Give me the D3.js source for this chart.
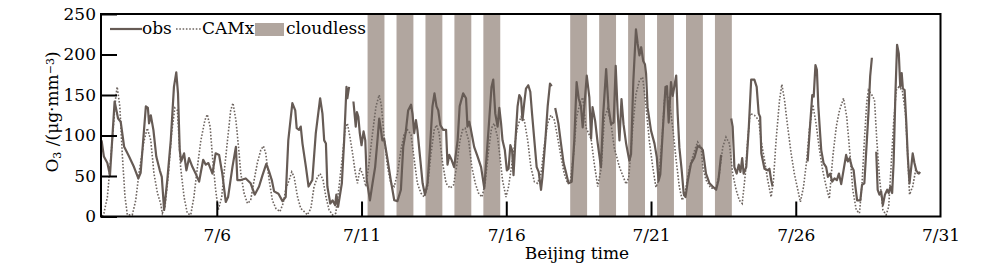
<!DOCTYPE html>
<html>
<head>
<meta charset="utf-8">
<script src="https://cdn.jsdelivr.net/npm/d3@7/dist/d3.min.js"></script>
<style>
  body { margin: 0; background: #fff; }
  svg { display: block; font-family: "DejaVu Serif", serif; }
</style>
</head>
<body>
<div id="chart"></div>
<script>
// x values are July day numbers (7/2 00:00 = 2), y values are O3 in µg/m3
// null marks a gap in the observation record
const obs = [
  [2.02,94],[2.10,74],[2.22,66],[2.31,51],[2.47,142],[2.59,121],[2.68,117],[2.80,86],[2.97,74],[3.14,61],
  [3.29,47],[3.37,54],[3.55,136],[3.62,134],[3.66,115],[3.72,125],[3.81,107],[3.91,74],[4.03,57],[4.10,49],
  [4.18,8],[4.29,45],[4.41,94],[4.52,160],[4.60,178],[4.66,152],[4.72,82],[4.77,68],[4.87,78],[4.95,57],
  [5.04,72],[5.16,61],[5.27,53],[5.39,43],[5.45,55],[5.53,70],[5.62,64],[5.71,66],[5.85,53],[5.96,78],
  [6.08,76],[6.19,53],[6.31,18],[6.39,24],[6.54,61],[6.66,86],[6.71,45],[6.83,45],[7.00,47],[7.17,41],
  [7.31,27],[7.46,37],[7.58,51],[7.71,65],[7.81,55],[7.90,45],[7.98,31],[8.13,28],[8.27,19],[8.38,24],
  [8.47,94],[8.61,140],[8.71,131],[8.76,109],[8.84,107],[8.90,111],[8.96,90],[9.08,61],[9.17,37],[9.30,45],
  [9.42,103],[9.57,146],[9.65,127],[9.71,94],[9.77,90],[9.82,37],[9.92,16],[10.00,20],[10.09,14],[10.13,27],
  [10.19,12],[10.32,41],[10.40,94],[10.48,160],[10.51,146],[10.57,160],[10.64,null],
  [10.72,142],[10.80,111],[10.84,129],[10.89,123],[10.94,103],[11.00,88],[11.07,105],[11.13,94],[11.18,45],
  [11.29,20],[11.38,41],[11.47,61],[11.55,94],[11.61,121],[11.67,107],[11.72,94],[11.78,96],[11.90,70],
  [12.01,45],[12.13,20],[12.24,19],[12.36,33],[12.44,86],[12.53,105],[12.61,131],[12.71,138],[12.76,127],
  [12.82,103],[12.88,119],[12.93,107],[13.02,74],[13.11,41],[13.19,27],[13.28,41],[13.36,82],[13.45,136],
  [13.52,152],[13.59,136],[13.65,131],[13.72,113],[13.82,107],[13.92,107],[13.97,64],[14.03,76],[14.11,70],
  [14.20,61],[14.32,94],[14.39,136],[14.51,152],[14.61,146],[14.66,111],[14.72,117],[14.78,107],[14.89,86],
  [15.01,74],[15.13,61],[15.24,35],[15.32,74],[15.41,119],[15.49,160],[15.55,169],[15.62,127],[15.70,111],
  [15.76,134],[15.82,115],[15.87,94],[15.95,82],[16.02,57],[16.08,59],[16.14,88],[16.20,82],[16.25,51],
  [16.31,90],[16.39,136],[16.45,150],[16.51,146],[16.56,119],[16.62,140],[16.68,158],[16.76,162],[16.83,154],
  [16.89,127],[16.97,94],[17.05,61],[17.12,55],[17.20,33],[17.25,49],[17.35,94],[17.43,136],[17.51,164],
  [17.57,161],[17.63,null],
  [17.69,134],[17.80,115],[17.89,90],[17.98,66],[18.06,55],[18.15,41],[18.26,43],[18.35,94],[18.43,166],
  [18.50,146],[18.58,136],[18.64,110],[18.78,174],[18.87,147],[18.93,96],[18.98,135],[19.07,118],[19.16,90],
  [19.27,61],[19.35,127],[19.45,182],[19.53,135],[19.62,114],[19.71,116],[19.78,186],[19.85,127],[19.91,94],
  [19.98,145],[20.05,114],[20.14,90],[20.25,69],[20.31,77],[20.39,168],[20.48,231],[20.54,213],[20.60,199],
  [20.66,209],[20.73,192],[20.79,188],[20.83,176],[20.88,135],[21.00,106],[21.12,90],[21.20,73],[21.26,44],
  [21.32,52],[21.40,102],[21.50,160],[21.55,161],[21.61,116],[21.69,166],[21.75,149],[21.87,174],[21.92,127],
  [21.98,85],[22.06,57],[22.13,28],[22.19,24],[22.27,44],[22.38,65],[22.50,73],[22.61,87],[22.73,85],
  [22.79,82],[22.90,53],[23.02,41],[23.13,37],[23.25,33],[23.33,45],[23.42,76],[23.60,null],
  [23.77,121],[23.82,111],[23.88,61],[23.96,53],[24.03,64],[24.09,55],[24.15,72],[24.20,53],[24.29,61],
  [24.38,111],[24.46,169],[24.57,169],[24.65,160],[24.72,127],[24.77,123],[24.81,78],[24.92,59],[25.03,57],
  [25.09,59],[25.15,45],[25.20,37],[25.80,null],
  [26.41,68],[26.50,115],[26.57,150],[26.62,148],[26.68,187],[26.73,181],[26.78,136],[26.84,103],[26.88,82],
  [26.96,66],[27.05,61],[27.11,49],[27.19,53],[27.26,43],[27.34,47],[27.42,45],[27.49,53],[27.57,40],
  [27.65,57],[27.74,76],[27.80,68],[27.86,72],[27.94,61],[28.00,57],[28.06,37],[28.12,20],[28.23,20],
  [28.29,39],[28.37,41],[28.43,78],[28.51,127],[28.57,173],[28.63,196],[28.70,null],
  [28.78,80],[28.83,33],[28.89,27],[28.95,31],[29.01,14],[29.08,27],[29.16,33],[29.21,29],[29.27,37],
  [29.33,29],[29.38,66],[29.44,148],[29.50,212],[29.56,201],[29.61,160],[29.66,177],[29.70,158],[29.76,156],
  [29.82,115],[29.87,74],[29.93,41],[29.99,61],[30.04,78],[30.10,66],[30.16,57],[30.25,53],[30.30,55]
];

const camx = [
  [2.04,0],[2.10,4],[2.22,24],[2.39,94],[2.51,148],[2.56,160],[2.65,136],[2.74,74],[2.83,24],[2.91,2],
  [3.08,2],[3.20,20],[3.31,53],[3.49,94],[3.60,109],[3.72,94],[3.83,53],[3.95,29],[4.06,16],[4.12,4],
  [4.21,12],[4.33,53],[4.44,103],[4.55,134],[4.64,131],[4.75,61],[4.87,24],[4.98,4],[5.10,2],[5.21,24],
  [5.33,61],[5.45,94],[5.59,119],[5.67,126],[5.77,111],[5.85,74],[5.96,33],[6.05,8],[6.17,24],[6.25,53],
  [6.37,94],[6.48,131],[6.56,140],[6.66,119],[6.75,86],[6.83,53],[6.94,29],[7.06,16],[7.17,20],[7.29,45],
  [7.40,66],[7.52,82],[7.61,87],[7.69,78],[7.81,45],[7.92,20],[8.04,10],[8.18,6],[8.29,16],[8.38,33],
  [8.50,45],[8.59,55],[8.67,49],[8.79,24],[8.90,10],[9.02,6],[9.13,2],[9.25,10],[9.36,37],[9.48,49],
  [9.57,53],[9.67,45],[9.77,24],[9.88,8],[10.00,2],[10.11,4],[10.23,39],[10.34,74],[10.43,107],[10.51,115],
  [10.60,98],[10.69,78],[10.78,55],[10.86,41],[10.95,60],[11.06,50],[11.15,37],[11.26,66],[11.38,103],
  [11.50,136],[11.61,150],[11.69,136],[11.78,98],[11.90,61],[12.01,41],[12.13,37],[12.24,53],[12.36,82],
  [12.47,101],[12.59,107],[12.71,101],[12.82,70],[12.93,41],[13.05,29],[13.17,24],[13.28,37],[13.40,78],
  [13.51,107],[13.59,113],[13.68,103],[13.80,66],[13.92,41],[14.06,35],[14.18,39],[14.28,61],[14.40,94],
  [14.49,107],[14.58,109],[14.70,94],[14.81,61],[14.93,41],[15.04,29],[15.16,24],[15.27,41],[15.39,82],
  [15.49,109],[15.58,115],[15.70,98],[15.78,74],[15.87,45],[15.99,24],[16.08,37],[16.16,57],[16.28,86],
  [16.39,111],[16.51,123],[16.62,119],[16.74,94],[16.85,61],[16.97,43],[17.08,41],[17.20,53],[17.31,86],
  [17.43,115],[17.54,125],[17.66,119],[17.77,98],[17.89,74],[18.00,53],[18.12,41],[18.21,43],[18.33,78],
  [18.43,123],[18.55,140],[18.64,147],[18.75,110],[18.93,96],[19.04,65],[19.16,37],[19.28,60],[19.39,122],
  [19.50,133],[19.62,114],[19.73,85],[19.91,61],[20.14,40],[20.23,48],[20.37,110],[20.48,151],[20.60,168],
  [20.71,172],[20.83,135],[20.94,94],[21.06,61],[21.17,36],[21.26,44],[21.38,94],[21.46,143],[21.54,151],
  [21.63,143],[21.75,110],[21.87,69],[21.98,36],[22.08,20],[22.19,32],[22.33,61],[22.50,81],[22.61,92],
  [22.73,85],[22.79,61],[22.90,45],[23.07,35],[23.25,35],[23.36,53],[23.48,86],[23.59,98],[23.71,90],
  [23.82,53],[23.94,33],[24.05,20],[24.15,16],[24.26,53],[24.34,94],[24.42,127],[24.57,125],[24.72,119],
  [24.80,94],[24.92,70],[25.03,45],[25.15,24],[25.23,45],[25.32,94],[25.44,144],[25.52,163],[25.61,144],
  [25.72,111],[25.84,78],[25.95,53],[26.07,33],[26.16,18],[26.27,37],[26.38,70],[26.47,107],[26.59,138],
  [26.70,115],[26.82,82],[26.93,57],[27.05,37],[27.16,22],[27.28,74],[27.40,111],[27.51,131],[27.65,146],
  [27.76,123],[27.88,74],[27.97,33],[28.09,8],[28.20,4],[28.29,41],[28.37,94],[28.45,140],[28.51,156],
  [28.63,150],[28.72,144],[28.80,94],[28.89,49],[29.01,8],[29.12,2],[29.21,12],[29.30,66],[29.38,115],
  [29.47,156],[29.56,160],[29.68,156],[29.79,127],[29.87,74],[29.93,27],[30.04,37],[30.14,57],[30.25,51]
];

// cloudless days (July), shaded from about 05:00 to 19:00
const cloudlessDays = [11, 12, 13, 14, 15, 18, 19, 20, 21, 22, 23];
const cloudlessFrom = 5 / 24, cloudlessTo = 19 / 24;

const xTicks = [6, 11, 16, 21, 26, 31];
const yTicks = [0, 50, 100, 150, 200, 250];

const W = 1000, H = 272;
const margin = { left: 101, right: 59.5, top: 14, bottom: 55.5 };
const ink = "#665b55";
const dots = "#6e6560";
const band = "#b1a69f";

const svg = d3.select("#chart").append("svg").attr("width", W).attr("height", H);

const x = d3.scaleLinear().domain([2, 31]).range([margin.left, W - margin.right]);
const y = d3.scaleLinear().domain([0, 250]).range([H - margin.bottom, margin.top]);

// shaded bands
svg.append("g").selectAll("rect").data(cloudlessDays).join("rect")
  .attr("x", d => x(d + cloudlessFrom))
  .attr("width", d => x(d + cloudlessTo) - x(d + cloudlessFrom))
  .attr("y", y(250))
  .attr("height", y(0) - y(250))
  .attr("fill", band);

// CAMx dotted
const line = d3.line().defined(d => d[1] != null).x(d => x(d[0])).y(d => y(d[1]));
svg.append("path").datum(camx)
  .attr("d", line)
  .attr("fill", "none")
  .attr("stroke", dots)
  .attr("stroke-width", 1.6)
  .attr("stroke-dasharray", "1.6,1.7");

// observations
svg.append("path").datum(obs)
  .attr("d", line)
  .attr("fill", "none")
  .attr("stroke", ink)
  .attr("stroke-width", 2.2)
  .attr("stroke-linejoin", "round");

// axes, ticks pointing inward
const yAxis = svg.append("g").attr("transform", `translate(${margin.left},0)`)
  .call(d3.axisLeft(y).tickValues(yTicks).tickSize(-16).tickPadding(5));
const xAxis = svg.append("g").attr("transform", `translate(0,${H - margin.bottom})`)
  .call(d3.axisBottom(x).tickValues(xTicks).tickSize(-15).tickPadding(12).tickFormat(d => `7/${d}`));

[yAxis, xAxis].forEach(g => {
  g.select(".domain").remove();
  g.selectAll("line").attr("stroke", "#000").attr("stroke-width", 2);
  g.selectAll("text").attr("fill", "#000").style("font-size", "17px").style("font-family", "DejaVu Serif, serif");
});
xAxis.selectAll(".tick").filter(d => d === 31).select("line").remove();

// frame
svg.append("rect")
  .attr("x", x(2)).attr("y", y(250))
  .attr("width", x(31) - x(2)).attr("height", y(0) - y(250))
  .attr("fill", "none").attr("stroke", "#000").attr("stroke-width", 2);

// axis titles
svg.append("text")
  .attr("x", 577).attr("y", 259)
  .attr("text-anchor", "middle")
  .style("font-size", "17px").attr("fill", "#000")
  .text("Beijing time");

const yl = svg.append("text")
  .attr("transform", "translate(58,112) rotate(-90)")
  .attr("text-anchor", "middle")
  .style("font-size", "17px").attr("fill", "#000");
yl.append("tspan").text("O");
yl.append("tspan").attr("baseline-shift", "-30%").style("font-size", "11px").text("3");
yl.append("tspan").text(" /(μg·mm");
yl.append("tspan").attr("baseline-shift", "40%").style("font-size", "11px").text("−3");
yl.append("tspan").text(")");

// legend
const lg = svg.append("g").style("font-size", "17px").attr("fill", "#000");
lg.append("line").attr("x1", 110).attr("x2", 142).attr("y1", 29).attr("y2", 29)
  .attr("stroke", ink).attr("stroke-width", 2.2);
lg.append("text").attr("x", 142).attr("y", 34).text("obs");
lg.append("line").attr("x1", 176).attr("x2", 202).attr("y1", 29).attr("y2", 29)
  .attr("stroke", dots).attr("stroke-width", 1.6).attr("stroke-dasharray", "1.6,1.7");
lg.append("text").attr("x", 202).attr("y", 34).text("CAMx");
lg.append("rect").attr("x", 255).attr("y", 23).attr("width", 29).attr("height", 13).attr("fill", band);
lg.append("text").attr("x", 286).attr("y", 34).text("cloudless");
</script>
</body>
</html>
